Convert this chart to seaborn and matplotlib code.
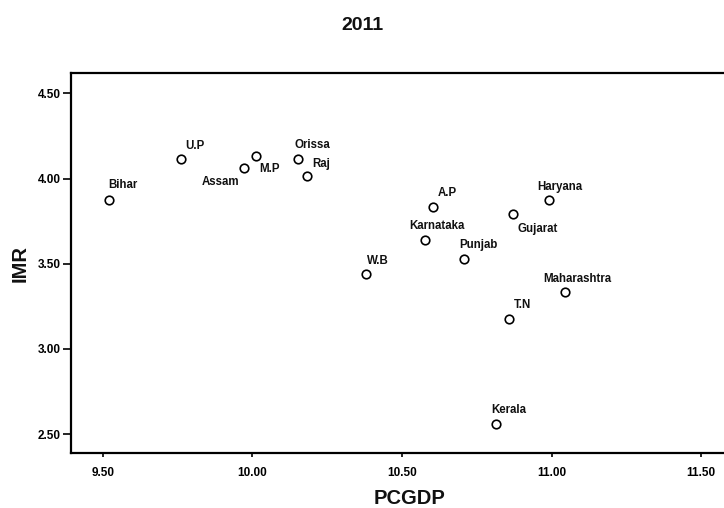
import matplotlib
matplotlib.use("Agg")
import matplotlib.pyplot as plt
import seaborn as sns
import pandas as pd
from matplotlib.ticker import FormatStrFormatter

# State-level per-capita GDP (log) vs infant mortality (log), 2011
states = ["Bihar", "U.P", "Assam", "M.P", "Orissa", "Raj", "A.P", "Haryana",
          "Gujarat", "Karnataka", "Punjab", "W.B", "Maharashtra", "T.N", "Kerala"]
pcgdp = [9.522, 9.762, 9.972, 10.013, 10.153, 10.184, 10.605, 10.990,
         10.872, 10.578, 10.709, 10.381, 11.046, 10.857, 10.815]
imr = [3.874, 4.113, 4.064, 4.132, 4.113, 4.015, 3.831, 3.874,
       3.790, 3.640, 3.526, 3.438, 3.333, 3.178, 2.560]

x_ticks = [9.5, 10.0, 10.5, 11.0, 11.5]
y_ticks = [2.5, 3.0, 3.5, 4.0, 4.5]

df = pd.DataFrame({"State": states, "PCGDP": pcgdp, "IMR": imr})

sns.set_theme(style="white")
plt.rcParams["font.family"] = ["Liberation Sans", "DejaVu Sans"]

fig = plt.figure(figsize=(7.24, 5.08), dpi=100)
ax = fig.add_axes([0.0977, 0.1083, 0.912, 0.748])

sns.scatterplot(data=df, x="PCGDP", y="IMR", ax=ax, marker="o", s=38,
                facecolor="white", edgecolor="black", linewidth=1.2, zorder=3)

# label placement (pixel offsets from each point, horizontal alignment)
label_style = {
    "Bihar": (-1, 15, "left"), "U.P": (4, 13, "left"), "Assam": (-5, -14, "right"),
    "M.P": (3, -13, "left"), "Orissa": (-4, 14, "left"), "Raj": (5, 12, "left"),
    "A.P": (4, 14, "left"), "Haryana": (-11, 13, "left"), "Gujarat": (4, -15, "left"),
    "Karnataka": (-16, 14, "left"), "Punjab": (-5, 14, "left"), "W.B": (1, 13, "left"),
    "Maharashtra": (-22, 13, "left"), "T.N": (5, 14, "left"), "Kerala": (-5, 14, "left"),
}
for name, xv, yv in zip(states, pcgdp, imr):
    dx, dy, ha = label_style[name]
    ax.annotate(name, (xv, yv), xytext=(dx, dy), textcoords="offset pixels",
                ha=ha, va="center", fontsize=8.3, fontweight="bold", color="#111111")

ax.set_xlim(9.393, 11.60)
ax.set_ylim(2.39, 4.619)
ax.set_xticks(x_ticks)
ax.set_yticks(y_ticks)
ax.xaxis.set_major_formatter(FormatStrFormatter("%.2f"))
ax.yaxis.set_major_formatter(FormatStrFormatter("%.2f"))

for side in ["left", "bottom", "top"]:
    ax.spines[side].set_visible(True)
    ax.spines[side].set_color("black")
    ax.spines[side].set_linewidth(1.6)
ax.spines["right"].set_visible(False)

ax.tick_params(axis="x", direction="out", length=3, width=1.2, pad=7,
               labelsize=8.5, colors="black", bottom=True)
ax.tick_params(axis="y", direction="out", length=6, width=1.2, pad=1,
               labelsize=8.5, colors="black", left=True)
for lbl in ax.get_xticklabels() + ax.get_yticklabels():
    lbl.set_fontweight("bold")

ax.set_xlabel("")
ax.set_ylabel("")
fig.text(0.566, 1 - 499 / 508, "PCGDP", ha="center", va="center",
         fontsize=14.5, fontweight="bold", color="#111111")
fig.text(20 / 724, 1 - 263 / 508, "IMR", ha="center", va="center", rotation=90,
         fontsize=14.5, fontweight="bold", color="#111111")
fig.text(0.5, 1 - 25 / 508, "2011", ha="center", va="center",
         fontsize=14, fontweight="bold", color="#111111")

fig.savefig("out.png", dpi=100, facecolor="white")
